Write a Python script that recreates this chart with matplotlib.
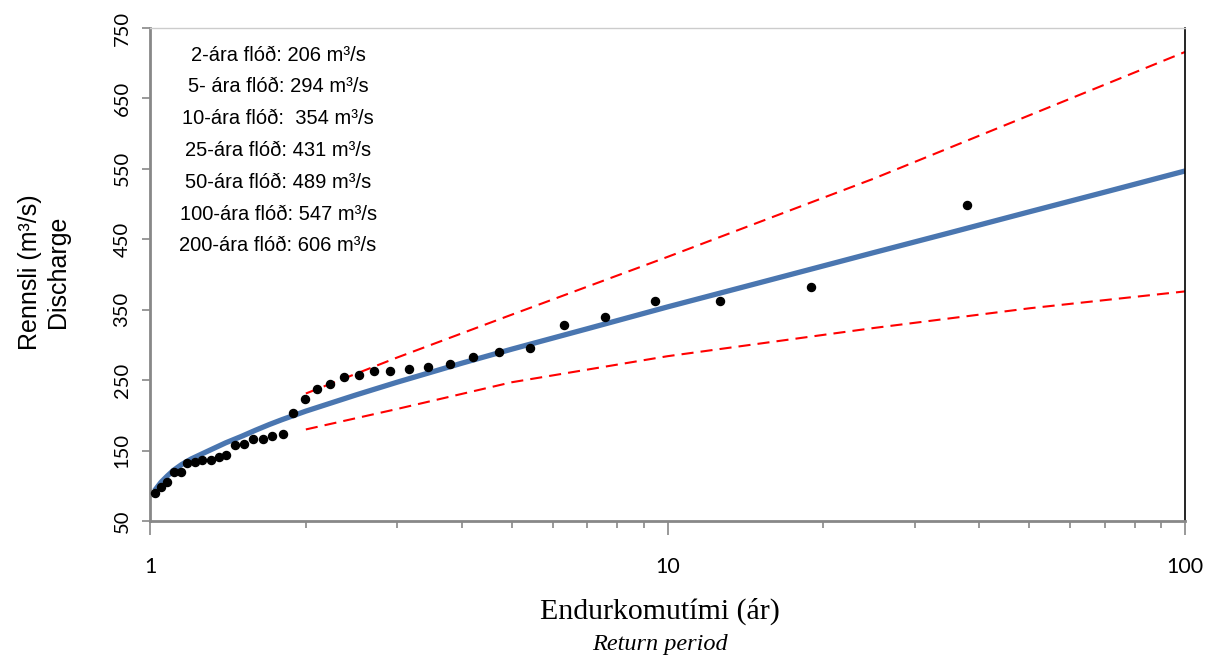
"""
Flóðagreining: endurkomutími og rennsli, með mældum gildum,
aðlöguðum ferli og öryggismörkum.
"""

import matplotlib
matplotlib.use("Agg")
import matplotlib.pyplot as plt
from matplotlib.ticker import FixedLocator, NullFormatter

# -----------------------------
# Gögn (lesin af myndinni)
# -----------------------------
endurkoma_maelt = [1.02, 1.05, 1.08, 1.11, 1.15, 1.18, 1.22, 1.26, 1.31, 1.36,
                   1.40, 1.46, 1.52, 1.58, 1.65, 1.72, 1.81, 1.89, 1.99, 2.10,
                   2.23, 2.37, 2.53, 2.71, 2.91, 3.16, 3.44, 3.79, 4.21, 4.73,
                   5.41, 6.31, 7.57, 9.47, 12.6, 18.9, 37.9]
rennsli_maelt = [90, 98, 105, 119, 119, 132, 134, 136, 137, 141,
                 144, 158, 159, 167, 167, 170, 173, 203, 223, 237,
                 244, 254, 257, 263, 263, 266, 268, 273, 283, 290,
                 296, 329, 340, 363, 363, 382, 498]

# Aðlagaður ferill
endurkoma_ferill = [1.02, 1.03, 1.05, 1.08, 1.11, 1.15, 1.2, 1.3, 1.4, 1.5,
                    1.6, 1.7, 1.8, 2, 2.5, 3, 4, 5, 7, 10, 15, 25, 35, 50, 70, 100]
rennsli_ferill = [93, 97, 105, 114, 122, 130, 138, 150, 161, 170,
                  179, 187, 194, 206, 229, 247, 274, 294, 323, 354, 388, 431, 459, 489, 517, 547]

# Öryggismörk
endurkoma_mork = [2, 3, 5, 10, 25, 50, 100]
efri_mork = [231, 282, 343, 425, 536, 626, 716]
nedri_mork = [180, 209, 247, 284, 324, 352, 376]

flod_texti = [
    "2-ára flóð: 206 m³/s",
    "5- ára flóð: 294 m³/s",
    "10-ára flóð:  354 m³/s",
    "25-ára flóð: 431 m³/s",
    "50-ára flóð: 489 m³/s",
    "100-ára flóð: 547 m³/s",
    "200-ára flóð: 606 m³/s",
]

y_ticks = [50, 150, 250, 350, 450, 550, 650, 750]
x_ticks = [1, 10, 100]

# -----------------------------
# Teikning
# -----------------------------
fig = plt.figure(figsize=(12.14, 6.6), dpi=100)
ax = fig.add_axes([0.1236, 0.2106, 0.8526, 0.747])

ax.plot(endurkoma_ferill, rennsli_ferill, color="#4a76b0", linewidth=3.8,
        solid_capstyle="butt", solid_joinstyle="round", zorder=2)
ax.plot(endurkoma_mork, efri_mork, color="red", linewidth=1.5,
        linestyle=(0, (5.8, 3.4)), zorder=2)
ax.plot(endurkoma_mork, nedri_mork, color="red", linewidth=1.5,
        linestyle=(0, (5.8, 3.4)), zorder=2)
ax.plot(endurkoma_maelt, rennsli_maelt, linestyle="none", marker="o",
        markersize=5.8, color="black", zorder=3)

ax.set_xscale("log")
ax.set_xlim(1, 100)
ax.set_ylim(50, 750)

ax.xaxis.set_major_locator(FixedLocator(x_ticks))
ax.set_xticklabels([str(t) for t in x_ticks], family="Lato", fontsize=15.5)
ax.xaxis.set_minor_locator(FixedLocator([2, 3, 4, 5, 6, 7, 8, 9,
                                         20, 30, 40, 50, 60, 70, 80, 90]))
ax.xaxis.set_minor_formatter(NullFormatter())
ax.tick_params(axis="x", which="major", length=10, width=1.2, color="#888888", pad=16)
ax.tick_params(axis="x", which="minor", length=5, width=1.2, color="#888888")

ax.set_yticks(y_ticks)
ax.set_yticklabels([str(t) for t in y_ticks], family="Lato", fontsize=14.5,
                   rotation=90, va="center")
ax.tick_params(axis="y", length=6, width=1.2, color="#888888", pad=8)

for side in ["left", "bottom"]:
    ax.spines[side].set_color("#888888")
    ax.spines[side].set_linewidth(2)
ax.spines["top"].set_color("#cccccc")
ax.spines["top"].set_linewidth(1)
ax.spines["right"].set_color("black")
ax.spines["right"].set_linewidth(1.2)

# Texti með flóðagildum
for i, lina in enumerate(flod_texti):
    ax.text(0.1237, 0.945 - i * 0.0645, lina, transform=ax.transAxes,
            ha="center", va="center", family="Liberation Sans", fontsize=14.5)

# Ásaheiti
fig.text(0.0245, 0.588, "Rennsli (m³/s)", rotation=90, ha="center", va="center",
         family="Liberation Sans", fontsize=18)
fig.text(0.0475, 0.588, "Discharge", rotation=90, ha="center", va="center",
         family="Liberation Sans", fontsize=18)
fig.text(0.5437, 0.073, "Endurkomutími (ár)", ha="center", va="center",
         family="Liberation Serif", fontsize=21.5)
fig.text(0.5437, 0.023, "Return period", ha="center", va="center",
         family="Liberation Serif", style="italic", fontsize=17.5)

fig.savefig("out.png", dpi=100)
